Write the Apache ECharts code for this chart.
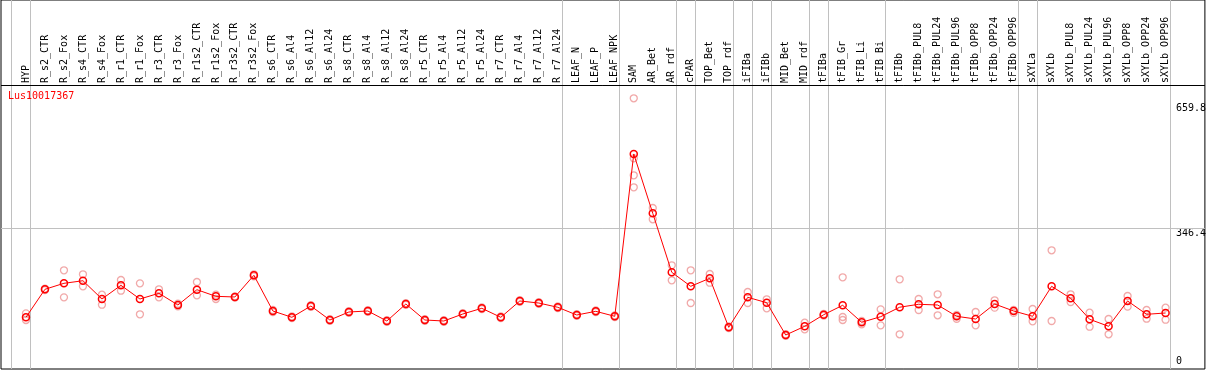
<!DOCTYPE html>
<html><head><meta charset="utf-8">
<script src="https://cdn.jsdelivr.net/npm/echarts@6/dist/echarts.min.js"></script>
<style>html,body{margin:0;padding:0;background:#fff}#c{width:1209px;height:370px}</style>
</head><body><div id="c"></div>
<script>
const geneName = 'Lus10017367';
const categories = ['HYP','R_s2_CTR','R_s2_Fox','R_s4_CTR','R_s4_Fox','R_r1_CTR','R_r1_Fox','R_r3_CTR','R_r3_Fox','R_r1s2_CTR','R_r1s2_Fox','R_r3s2_CTR','R_r3s2_Fox','R_s6_CTR','R_s6_Al4','R_s6_Al12','R_s6_Al24','R_s8_CTR','R_s8_Al4','R_s8_Al12','R_s8_Al24','R_r5_CTR','R_r5_Al4','R_r5_Al12','R_r5_Al24','R_r7_CTR','R_r7_Al4','R_r7_Al12','R_r7_Al24','LEAF_N','LEAF_P','LEAF_NPK','SAM','AR_Bet','AR_rdf','cPAR','TOP_Bet','TOP_rdf','iFIBa','iFIBb','MID_Bet','MID_rdf','tFIBa','tFIB_Gr','tFIB_Li','tFIB_Bi','tFIBb','tFIBb_PUL8','tFIBb_PUL24','tFIBb_PUL96','tFIBb_OPP8','tFIBb_OPP24','tFIBb_OPP96','sXYLa','sXYLb','sXYLb_PUL8','sXYLb_PUL24','sXYLb_PUL96','sXYLb_OPP8','sXYLb_OPP24','sXYLb_OPP96'];
const means = [122.6,192.8,207.8,214.3,168.5,202.8,168.5,182.8,153.4,191.8,175.2,173.5,227.9,138.4,122.6,150.9,115.8,135.9,138.4,113.3,155.9,115.8,113.3,130.9,145.2,122.6,163.5,158.4,147.7,128.4,137.6,125.1,532.0,383.3,235.4,200.3,220.4,97.5,172.7,159.2,78.2,100.0,129.1,152.7,110.1,124.1,147.9,155.2,153.4,125.1,118.3,155.9,138.4,125.1,200.3,170.2,117.6,100.0,163.5,130.1,133.4];
const replicates = [
 [132.6,115.8],[194.3,191.0],[240.4,172.7],[230.4,200.3],[179.3,154.2],[216.1,189.3],[207.8,130.1],[192.8,172.7],[156.7,150.1],[211.1,177.7],
 [179.3,168.5],[175.2,171.8],[230.4,225.4],[140.9,135.9],[124.6,120.6],[152.9,148.9],[117.8,113.8],[137.9,133.9],[140.4,136.4],[115.3,111.3],
 [157.9,153.9],[117.8,113.8],[115.3,111.3],[132.9,128.9],[147.2,143.2],[124.6,120.6],[165.5,161.5],[160.4,156.4],[149.7,145.7],[130.4,126.4],
 [139.6,135.6],[127.1,123.1],[671.6,521.2,478.6,448.5],[396.6,368.3],[253.0,215.4],[240.4,158.4],[231.1,209.3],[99.5,95.5],[186.0,158.4],[167.7,145.2],
 [80.2,76.2],[109.1,92.5],[131.1,127.1],[222.9,123.3,115.8],[113.3,105.0],[142.6,102.5],[217.9,80.0],[168.5,140.9],[180.3,127.6],[128.4,119.0],
 [135.9,102.5],[165.2,146.7],[140.9,133.6],[143.4,112.6],[290.6,113.3],[180.3,160.9],[134.1,99.0],[118.3,80.0],[176.0,149.2],[140.9,119.1],
 [146.7,116.6]
];
const groupSizes = [1,28,3,3,1,2,1,1,2,1,3,7,1,7];
const yTickValues = [659.8, 346.4];
const yZeroValue = [0];
const referenceLine = 346.4;

const FONT = "'DejaVu Sans Mono', monospace";
const X_MIN = -1.315, X_MAX = 62.07, Y_MIN = -7.0, Y_MAX = 918.0;
const SEP_SHIFT = 0.21;
const HEADER_H = 85;

const boundaries = [-1];
let acc = -1;
groupSizes.forEach(s => { acc += s; boundaries.push(acc); });
const sepData = boundaries.map(b => [b + SEP_SHIFT, 0]);

const lineData = means.map((v, i) => [i, v]);
const repData = [];
replicates.forEach((arr, i) => arr.forEach(v => repData.push([i, v])));

const chart = echarts.init(document.getElementById('c'), null, {renderer: 'canvas'});
chart.setOption({
  animation: false,
  backgroundColor: '#fff',
  title: {
    text: geneName, left: 8, top: 91, padding: 0,
    textStyle: {color: '#ff0000', fontSize: 10, fontWeight: 'normal', fontFamily: FONT}
  },
  grid: {left: 1, top: 0, right: 3, bottom: 1, show: true, borderColor: '#000', borderWidth: 1, backgroundColor: '#fff'},
  xAxis: {
    type: 'value', position: 'top', offset: -HEADER_H, min: X_MIN, max: X_MAX,
    axisLine: {show: false},
    axisTick: {show: false}, splitLine: {show: false},
    axisLabel: {
      customValues: categories.map((_, i) => i),
      formatter: v => categories[Math.round(v)] || '',
      rotate: 90, margin: 2, fontSize: 10, color: '#000', fontFamily: FONT
    }
  },
  yAxis: [
    {type: 'value', position: 'right', min: Y_MIN, max: Y_MAX,
     axisLine: {show: false, onZero: false}, axisTick: {show: false}, splitLine: {show: false},
     axisLabel: {customValues: yTickValues, inside: true, margin: 29, align: 'left', verticalAlign: 'top',
                 fontSize: 10, color: '#000', fontFamily: FONT}},
    {type: 'value', position: 'right', min: Y_MIN, max: Y_MAX,
     axisLine: {show: false, onZero: false}, axisTick: {show: false}, splitLine: {show: false},
     axisLabel: {customValues: yZeroValue, inside: true, margin: 29, align: 'left', verticalAlign: 'bottom',
                 fontSize: 10, color: '#000', fontFamily: FONT}}
  ],
  series: [
    {
      type: 'custom', z: 1, silent: true,
      data: sepData,
      renderItem: (params, api) => {
        const x = api.value(0);
        const p1 = api.coord([x, Y_MAX]);
        const p2 = api.coord([x, Y_MIN]);
        const px = Math.round(p1[0]) + 0.5;
        return {type: 'line', shape: {x1: px, y1: p1[1], x2: px, y2: p2[1]},
                style: {stroke: '#c0c0c0', lineWidth: 1}};
      }
    },
    {
      type: 'custom', z: 4, silent: true,
      data: [[0, 0]],
      renderItem: (params) => {
        const cs = params.coordSys;
        const py = Math.round(cs.y + HEADER_H) + 0.5;
        return {type: 'line', shape: {x1: cs.x, y1: py, x2: cs.x + cs.width, y2: py},
                style: {stroke: '#000', lineWidth: 1}};
      }
    },
    {
      type: 'scatter', z: 2, data: repData, symbol: 'circle', symbolSize: 7,
      itemStyle: {color: 'rgba(0,0,0,0)', borderColor: '#ee9494', borderWidth: 1.3}
    },
    {
      type: 'line', z: 3, data: lineData, symbol: 'circle', symbolSize: 7, showAllSymbol: true,
      lineStyle: {color: '#ff0000', width: 1},
      itemStyle: {color: 'rgba(0,0,0,0)', borderColor: '#ff0000', borderWidth: 1.5},
      markLine: {
        silent: true, symbol: 'none', label: {show: false}, z: 1,
        lineStyle: {color: '#c0c0c0', width: 1, type: 'solid'},
        data: [{yAxis: referenceLine}]
      }
    }
  ]
});
</script></body></html>
